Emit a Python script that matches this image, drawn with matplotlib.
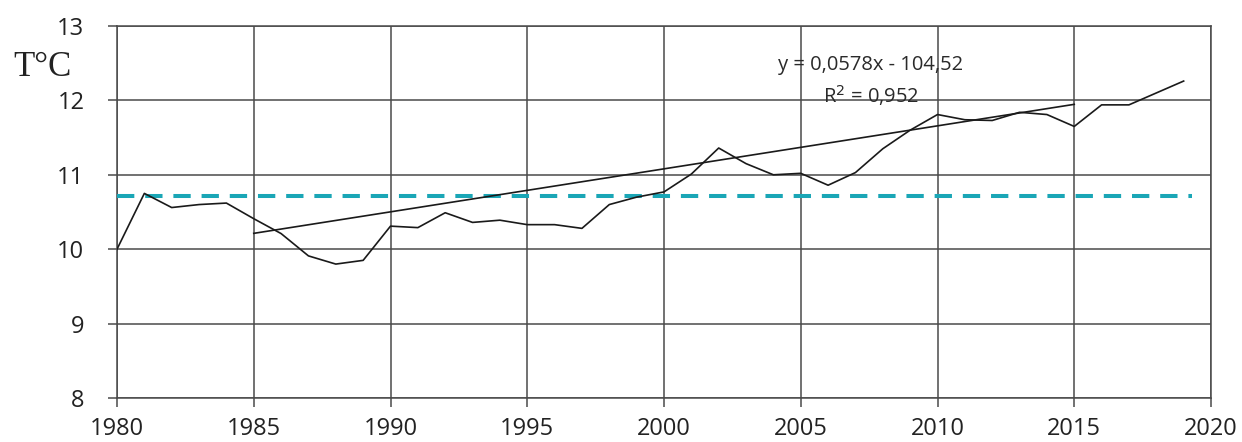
import matplotlib
matplotlib.use("Agg")
import matplotlib.pyplot as plt
import numpy as np

years = list(range(1980, 2020))
temps = [10.00, 10.75, 10.56, 10.60, 10.62, 10.41, 10.21, 9.91, 9.80, 9.85,
         10.31, 10.29, 10.49, 10.36, 10.39, 10.33, 10.33, 10.28, 10.60, 10.70,
         10.77, 11.01, 11.36, 11.15, 11.00, 11.02, 10.86, 11.03, 11.35, 11.60,
         11.81, 11.74, 11.73, 11.84, 11.81, 11.65, 11.94, 11.94, 12.10, 12.26]
mean_temp = 10.72
trend_slope = 0.0578
trend_intercept = -104.52
trend_years = [1985, 2015]
x_ticks = [1980, 1985, 1990, 1995, 2000, 2005, 2010, 2015, 2020]
y_ticks = [8, 9, 10, 11, 12, 13]
eq_text = "y = 0,0578x - 104,52"
r2_text = "R$^2$ = 0,952"
y_label = "T°C"

fig = plt.figure(figsize=(12.42, 4.42), dpi=100)
ax = fig.add_axes([117/1242, 44/442, (1211-117)/1242, (398-26)/442])

grid_c = "#4a4a4a"
ax.set_xlim(1980, 2020)
ax.set_ylim(8, 13)
ax.set_xticks(x_ticks)
ax.set_yticks(y_ticks)
ax.grid(True, color=grid_c, linewidth=1.1)
for s in ax.spines.values():
    s.set_color(grid_c)
    s.set_linewidth(1.1)
ax.tick_params(axis="both", direction="out", length=6.5, width=1.1, color=grid_c,
               labelcolor="#222222", labelsize=17)
for lab in ax.get_xticklabels() + ax.get_yticklabels():
    lab.set_family("Open Sans")
ax.tick_params(axis="x", pad=7)
ax.tick_params(axis="y", pad=17)

ax.plot(years, temps, color="#1a1a1a", linewidth=1.2, zorder=4)
ty = [trend_slope * t + trend_intercept for t in trend_years]
ax.plot(trend_years, ty, color="#1a1a1a", linewidth=1.2, zorder=4)
ax.plot([years[0], years[-1] + 0.3], [mean_temp, mean_temp], color="#1aa6b6",
        linewidth=2.9, dashes=(4.3, 2.7), zorder=3)

ax.text(2007.57, 12.476, eq_text, ha="center", va="center", fontsize=14.5,
        family="Open Sans", color="#2a2a2a", zorder=5)
ax.text(2007.57, 12.07, r2_text, ha="center", va="center", fontsize=14.5,
        family="Open Sans", color="#2a2a2a", zorder=5)

fig.text(42/1242, 1 - 76/442, y_label, ha="center", va="baseline", fontsize=25,
         family="Liberation Serif", color="#222222")

fig.savefig("out.png", dpi=100, facecolor="white")
